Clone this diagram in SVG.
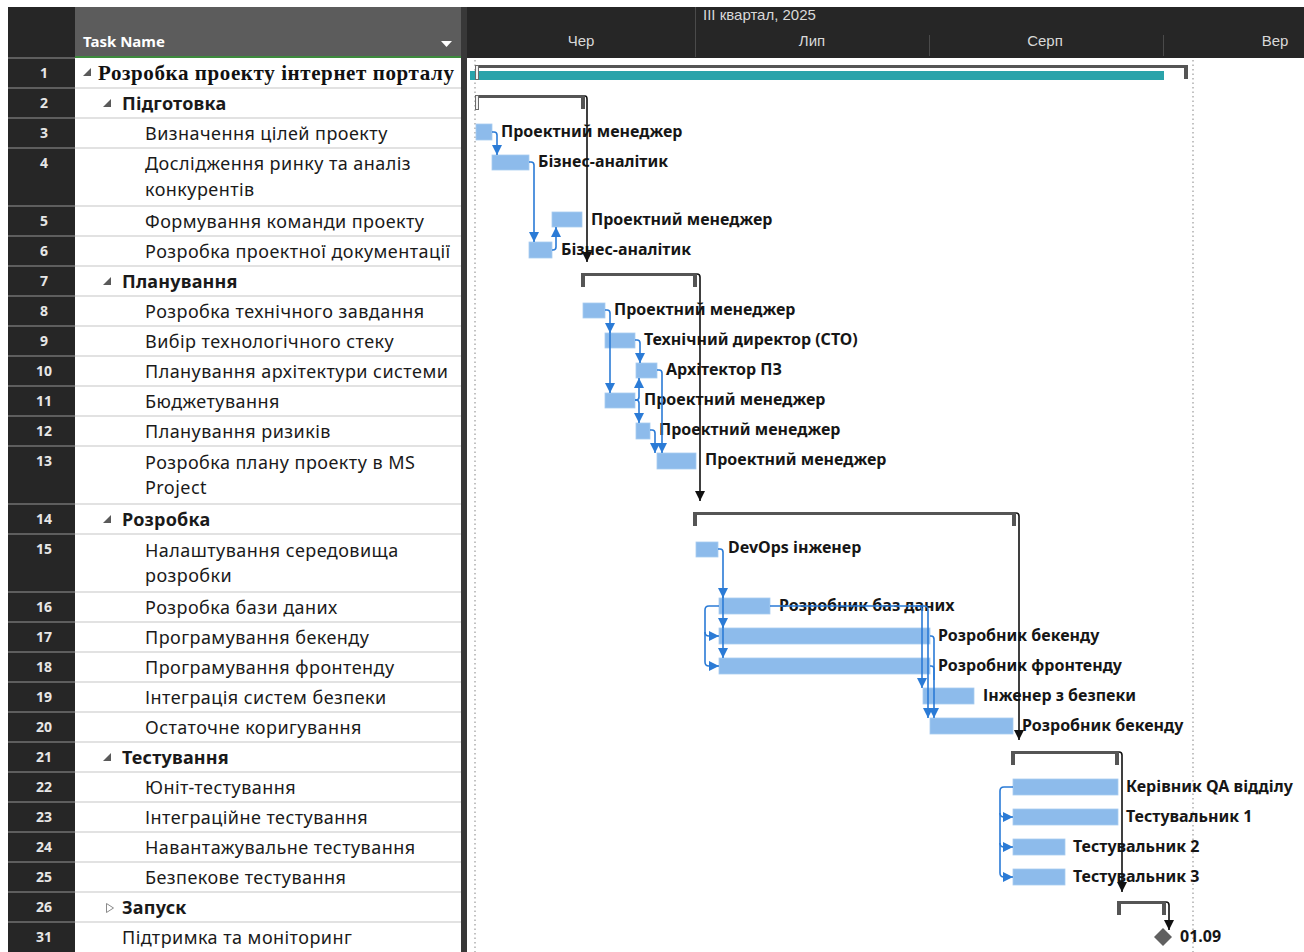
<svg xmlns="http://www.w3.org/2000/svg" width="1304" height="952" viewBox="0 0 1304 952">
  <style>
    .num { font-family: "Noto Sans", "Open Sans", sans-serif; font-size: 14px; font-weight: bold; fill: #e6e6e6; text-anchor: middle; }
    .task { font-family: "Noto Sans", "Open Sans", sans-serif; font-size: 18px; letter-spacing: 0.45px; fill: #1a1a1a; }
    .sum { font-weight: bold; letter-spacing: 0.2px; }
    .title { font-family: "Liberation Serif", serif; font-size: 21px; letter-spacing: 0.6px; font-weight: bold; fill: #111; }
    .hdr { font-family: "Liberation Sans", Arial, sans-serif; font-size: 15px; fill: #d9d9d9; }
    .lbl { font-family: "Noto Sans", "Open Sans", sans-serif; font-size: 16px; font-weight: bold; fill: #161616; }
    .bar { fill: #8dbbeb; stroke: #a9ccf0; stroke-width: 0.8; }
    .sumbar { fill: #555; }
    .hollow { fill: #f2f2f2; stroke: #6a6a6a; stroke-width: 1; }
    .blue { fill: none; stroke: #2b7bd6; stroke-width: 1.6; }
    .black { fill: none; stroke: #111; stroke-width: 1.6; }
    .rowline { stroke: #e2e2e2; stroke-width: 2; }
    .numline { stroke: #5e5e5e; stroke-width: 2; }
    .dots { stroke: #9a9a9a; stroke-width: 1.2; stroke-dasharray: 1.5 3; }
    .tri { fill: #5a5a5a; }
  </style>
  <defs>
    <marker id="ab" viewBox="0 0 10 10" refX="10" refY="5" markerWidth="11" markerHeight="10" markerUnits="userSpaceOnUse" orient="auto">
      <path d="M0,0 L10,5 L0,10 Z" fill="#2b7bd6"/>
    </marker>
    <marker id="ak" viewBox="0 0 10 10" refX="10" refY="5" markerWidth="10" markerHeight="11" markerUnits="userSpaceOnUse" orient="auto">
      <path d="M0,0 L10,5 L0,10 Z" fill="#111"/>
    </marker>
  </defs>

  <!-- page background -->
  <rect x="0" y="0" width="1304" height="952" fill="#ffffff"/>

  <!-- header band -->
  <g id="header">
    <rect x="8" y="7" width="1296" height="51" fill="#262626"/>
    <rect x="75" y="7" width="386" height="50" fill="#5c5c5c"/>
    <rect x="75" y="56" width="386" height="2" fill="#3d8b3d"/>
    <text x="83" y="47" font-family="Noto Sans, Open Sans, sans-serif" font-size="15" font-weight="bold" fill="#ffffff">Task Name</text>
    <path d="M441,41 L452,41 L446.5,47 Z" fill="#ffffff"/>
    <line x1="695.5" y1="7" x2="695.5" y2="57" stroke="#4a4a4a" stroke-width="1"/>
    <line x1="929.5" y1="35" x2="929.5" y2="56" stroke="#4a4a4a" stroke-width="1"/>
    <line x1="1163.5" y1="35" x2="1163.5" y2="56" stroke="#4a4a4a" stroke-width="1"/>
    <text class="hdr" x="703" y="20">III квартал, 2025</text>
    <text class="hdr" x="581" y="46" text-anchor="middle">Чер</text>
    <text class="hdr" x="812" y="46" text-anchor="middle">Лип</text>
    <text class="hdr" x="1045" y="46" text-anchor="middle">Серп</text>
    <text class="hdr" x="1275" y="46" text-anchor="middle">Вер</text>
  </g>

  <!-- row number column and task table -->
  <g id="table">
    <rect x="8" y="58" width="67" height="894" fill="#262626"/>
    <rect x="75" y="58" width="386" height="894" fill="#ffffff"/>
    <rect x="461" y="7" width="6" height="945" fill="#383838"/>
    <g class="numline">
      <line x1="8" y1="58" x2="75" y2="58"/><line x1="8" y1="88" x2="75" y2="88"/><line x1="8" y1="118" x2="75" y2="118"/>
      <line x1="8" y1="148" x2="75" y2="148"/><line x1="8" y1="206" x2="75" y2="206"/><line x1="8" y1="236" x2="75" y2="236"/>
      <line x1="8" y1="266" x2="75" y2="266"/><line x1="8" y1="296" x2="75" y2="296"/><line x1="8" y1="326" x2="75" y2="326"/>
      <line x1="8" y1="356" x2="75" y2="356"/><line x1="8" y1="386" x2="75" y2="386"/><line x1="8" y1="416" x2="75" y2="416"/>
      <line x1="8" y1="446" x2="75" y2="446"/><line x1="8" y1="504" x2="75" y2="504"/><line x1="8" y1="534" x2="75" y2="534"/>
      <line x1="8" y1="592" x2="75" y2="592"/><line x1="8" y1="622" x2="75" y2="622"/><line x1="8" y1="652" x2="75" y2="652"/>
      <line x1="8" y1="682" x2="75" y2="682"/><line x1="8" y1="712" x2="75" y2="712"/><line x1="8" y1="742" x2="75" y2="742"/>
      <line x1="8" y1="772" x2="75" y2="772"/><line x1="8" y1="802" x2="75" y2="802"/><line x1="8" y1="832" x2="75" y2="832"/>
      <line x1="8" y1="862" x2="75" y2="862"/><line x1="8" y1="892" x2="75" y2="892"/><line x1="8" y1="922" x2="75" y2="922"/>
    </g>
    <g class="rowline">
      <line x1="75" y1="88" x2="461" y2="88"/><line x1="75" y1="118" x2="461" y2="118"/>
      <line x1="75" y1="148" x2="461" y2="148"/><line x1="75" y1="206" x2="461" y2="206"/><line x1="75" y1="236" x2="461" y2="236"/>
      <line x1="75" y1="266" x2="461" y2="266"/><line x1="75" y1="296" x2="461" y2="296"/><line x1="75" y1="326" x2="461" y2="326"/>
      <line x1="75" y1="356" x2="461" y2="356"/><line x1="75" y1="386" x2="461" y2="386"/><line x1="75" y1="416" x2="461" y2="416"/>
      <line x1="75" y1="446" x2="461" y2="446"/><line x1="75" y1="504" x2="461" y2="504"/><line x1="75" y1="534" x2="461" y2="534"/>
      <line x1="75" y1="592" x2="461" y2="592"/><line x1="75" y1="622" x2="461" y2="622"/><line x1="75" y1="652" x2="461" y2="652"/>
      <line x1="75" y1="682" x2="461" y2="682"/><line x1="75" y1="712" x2="461" y2="712"/><line x1="75" y1="742" x2="461" y2="742"/>
      <line x1="75" y1="772" x2="461" y2="772"/><line x1="75" y1="802" x2="461" y2="802"/><line x1="75" y1="832" x2="461" y2="832"/>
      <line x1="75" y1="862" x2="461" y2="862"/><line x1="75" y1="892" x2="461" y2="892"/><line x1="75" y1="922" x2="461" y2="922"/>
    </g>
  </g>

  <!-- task rows: number + name -->
  <g id="row1"><text class="num" x="44" y="78">1</text><path class="tri" d="M91,68 L91,76 L83,76 Z"/><text class="title" x="98" y="80">Розробка проекту інтернет порталу</text></g>
  <g id="row2"><text class="num" x="44" y="108">2</text><path class="tri" d="M111,99 L111,107 L103,107 Z"/><text class="task sum" x="122" y="110">Підготовка</text></g>
  <g id="row3"><text class="num" x="44" y="138">3</text><text class="task" x="145" y="140">Визначення цілей проекту</text></g>
  <g id="row4"><text class="num" x="44" y="168">4</text><text class="task" x="145" y="170">Дослідження ринку та аналіз</text><text class="task" x="145" y="196">конкурентів</text></g>
  <g id="row5"><text class="num" x="44" y="226">5</text><text class="task" x="145" y="228">Формування команди проекту</text></g>
  <g id="row6"><text class="num" x="44" y="256">6</text><text class="task" x="145" y="258">Розробка проектної документації</text></g>
  <g id="row7"><text class="num" x="44" y="286">7</text><path class="tri" d="M111,277 L111,285 L103,285 Z"/><text class="task sum" x="122" y="288">Планування</text></g>
  <g id="row8"><text class="num" x="44" y="316">8</text><text class="task" x="145" y="318">Розробка технічного завдання</text></g>
  <g id="row9"><text class="num" x="44" y="346">9</text><text class="task" x="145" y="348">Вибір технологічного стеку</text></g>
  <g id="row10"><text class="num" x="44" y="376">10</text><text class="task" x="145" y="378">Планування архітектури системи</text></g>
  <g id="row11"><text class="num" x="44" y="406">11</text><text class="task" x="145" y="408">Бюджетування</text></g>
  <g id="row12"><text class="num" x="44" y="436">12</text><text class="task" x="145" y="438">Планування ризиків</text></g>
  <g id="row13"><text class="num" x="44" y="466">13</text><text class="task" x="145" y="469">Розробка плану проекту в MS</text><text class="task" x="145" y="494">Project</text></g>
  <g id="row14"><text class="num" x="44" y="524">14</text><path class="tri" d="M111,515 L111,523 L103,523 Z"/><text class="task sum" x="122" y="526">Розробка</text></g>
  <g id="row15"><text class="num" x="44" y="554">15</text><text class="task" x="145" y="557">Налаштування середовища</text><text class="task" x="145" y="582">розробки</text></g>
  <g id="row16"><text class="num" x="44" y="612">16</text><text class="task" x="145" y="614">Розробка бази даних</text></g>
  <g id="row17"><text class="num" x="44" y="642">17</text><text class="task" x="145" y="644">Програмування бекенду</text></g>
  <g id="row18"><text class="num" x="44" y="672">18</text><text class="task" x="145" y="674">Програмування фронтенду</text></g>
  <g id="row19"><text class="num" x="44" y="702">19</text><text class="task" x="145" y="704">Інтеграція систем безпеки</text></g>
  <g id="row20"><text class="num" x="44" y="732">20</text><text class="task" x="145" y="734">Остаточне коригування</text></g>
  <g id="row21"><text class="num" x="44" y="762">21</text><path class="tri" d="M111,753 L111,761 L103,761 Z"/><text class="task sum" x="122" y="764">Тестування</text></g>
  <g id="row22"><text class="num" x="44" y="792">22</text><text class="task" x="145" y="794">Юніт-тестування</text></g>
  <g id="row23"><text class="num" x="44" y="822">23</text><text class="task" x="145" y="824">Інтеграційне тестування</text></g>
  <g id="row24"><text class="num" x="44" y="852">24</text><text class="task" x="145" y="854">Навантажувальне тестування</text></g>
  <g id="row25"><text class="num" x="44" y="882">25</text><text class="task" x="145" y="884">Безпекове тестування</text></g>
  <g id="row26"><text class="num" x="44" y="912">26</text><path d="M106.5,903.5 L113.5,908 L106.5,912.5 Z" fill="none" stroke="#8a8a8a" stroke-width="1"/><text class="task sum" x="122" y="914">Запуск</text></g>
  <g id="row31"><text class="num" x="44" y="942">31</text><text class="task" x="122" y="944">Підтримка та моніторинг</text></g>

  <!-- chart guides -->
  <g id="guides">
    <line class="dots" x1="475" y1="60" x2="475" y2="952"/>
    <line class="dots" x1="1193" y1="60" x2="1193" y2="952"/>
  </g>

  <!-- summary bars -->
  <g id="sum1">
    <rect x="470" y="71" width="694" height="9" fill="#2aa3aa"/>
    <rect class="sumbar" x="475" y="65" width="713" height="3"/>
    <rect class="hollow" x="475.5" y="65.5" width="3" height="14"/>
    <rect class="sumbar" x="1184" y="65" width="4" height="14"/>
  </g>
  <g id="sum2">
    <rect class="sumbar" x="475" y="95" width="110" height="3"/>
    <rect class="hollow" x="475.5" y="95.5" width="3" height="14"/>
    <rect class="sumbar" x="581" y="95" width="4" height="14"/>
  </g>
  <g id="sum7">
    <rect class="sumbar" x="581" y="273" width="116" height="3"/>
    <rect class="sumbar" x="581" y="273" width="4" height="14"/>
    <rect class="sumbar" x="693" y="273" width="4" height="14"/>
  </g>
  <g id="sum14">
    <rect class="sumbar" x="693" y="512" width="323" height="3"/>
    <rect class="sumbar" x="693" y="512" width="4" height="14"/>
    <rect class="sumbar" x="1012" y="512" width="4" height="14"/>
  </g>
  <g id="sum21">
    <rect class="sumbar" x="1011" y="751" width="108" height="3"/>
    <rect class="sumbar" x="1011" y="751" width="4" height="14"/>
    <rect class="sumbar" x="1115" y="751" width="4" height="14"/>
  </g>
  <g id="sum26">
    <rect class="sumbar" x="1117" y="901" width="49" height="3"/>
    <rect class="sumbar" x="1117" y="901" width="4" height="14"/>
    <rect class="sumbar" x="1162" y="901" width="4" height="14"/>
  </g>

  <!-- task bars with resource labels -->
  <g id="bar3"><rect class="bar" x="476" y="124" width="16" height="16"/><text class="lbl" x="501" y="137">Проектний менеджер</text></g>
  <g id="bar4"><rect class="bar" x="492" y="155" width="37" height="15"/><text class="lbl" x="538" y="167">Бізнес-аналітик</text></g>
  <g id="bar5"><rect class="bar" x="552" y="212" width="30" height="15"/><text class="lbl" x="591" y="225">Проектний менеджер</text></g>
  <g id="bar6"><rect class="bar" x="529" y="242" width="23" height="16"/><text class="lbl" x="561" y="255">Бізнес-аналітик</text></g>
  <g id="bar8"><rect class="bar" x="583" y="303" width="22" height="15"/><text class="lbl" x="614" y="315">Проектний менеджер</text></g>
  <g id="bar9"><rect class="bar" x="605" y="333" width="30" height="15"/><text class="lbl" x="644" y="345">Технічний директор (СТО)</text></g>
  <g id="bar10"><rect class="bar" x="636" y="363" width="21" height="15"/><text class="lbl" x="666" y="375">Архітектор ПЗ</text></g>
  <g id="bar11"><rect class="bar" x="605" y="393" width="30" height="15"/><text class="lbl" x="644" y="405">Проектний менеджер</text></g>
  <g id="bar12"><rect class="bar" x="636" y="423" width="14" height="16"/><text class="lbl" x="659" y="435">Проектний менеджер</text></g>
  <g id="bar13"><rect class="bar" x="657" y="453" width="39" height="16"/><text class="lbl" x="705" y="465">Проектний менеджер</text></g>
  <g id="bar15"><rect class="bar" x="696" y="542" width="22" height="15"/><text class="lbl" x="728" y="553">DevOps інженер</text></g>
  <g id="bar16"><rect class="bar" x="719" y="598" width="51" height="16"/><text class="lbl" x="779" y="611">Розробник баз даних</text></g>
  <g id="bar17"><rect class="bar" x="719" y="628" width="211" height="16"/><text class="lbl" x="938" y="641">Розробник бекенду</text></g>
  <g id="bar18"><rect class="bar" x="719" y="658" width="211" height="16"/><text class="lbl" x="938" y="671">Розробник фронтенду</text></g>
  <g id="bar19"><rect class="bar" x="923" y="688" width="51" height="16"/><text class="lbl" x="983" y="701">Інженер з безпеки</text></g>
  <g id="bar20"><rect class="bar" x="930" y="718" width="83" height="16"/><text class="lbl" x="1022" y="731">Розробник бекенду</text></g>
  <g id="bar22"><rect class="bar" x="1013" y="779" width="105" height="16"/><text class="lbl" x="1126" y="792">Керівник QA відділу</text></g>
  <g id="bar23"><rect class="bar" x="1013" y="809" width="105" height="16"/><text class="lbl" x="1126" y="822">Тестувальник 1</text></g>
  <g id="bar24"><rect class="bar" x="1013" y="839" width="52" height="16"/><text class="lbl" x="1073" y="852">Тестувальник 2</text></g>
  <g id="bar25"><rect class="bar" x="1013" y="869" width="52" height="16"/><text class="lbl" x="1073" y="882">Тестувальник 3</text></g>
  <g id="milestone"><path d="M1163,928 L1172,937 L1163,946 L1154,937 Z" fill="#606060"/><text class="lbl" x="1180" y="942">01.09</text></g>

  <!-- dependency links -->
  <g id="connectors">
    <!-- summary-to-summary links -->
    <path class="black" d="M585,96 h0 q2,0 2,3 V262" marker-end="url(#ak)"/>
    <path class="black" d="M697,274 q3,0 3,3 V501" marker-end="url(#ak)"/>
    <path class="black" d="M1016,513 q3,0 3,3 V740" marker-end="url(#ak)"/>
    <path class="black" d="M1119,752 q3,0 3,3 V892" marker-end="url(#ak)"/>
    <path class="black" d="M1166,902 q3,0 3,3 V930" marker-end="url(#ak)"/>

    <!-- Підготовка -->
    <path class="blue" d="M492,132 h2 q3,0 3,3 V155" marker-end="url(#ab)"/>
    <path class="blue" d="M529,162 h2 q3,0 3,3 V242" marker-end="url(#ab)"/>
    <path class="blue" d="M552,250 h1 q3,0 3,-3 V227" marker-end="url(#ab)"/>

    <!-- Планування -->
    <path class="blue" d="M605,310 h2 q3,0 3,3 V333" marker-end="url(#ab)"/>
    <path class="blue" d="M610,330 V393" marker-end="url(#ab)"/>
    <path class="blue" d="M635,340 h2 q3,0 3,3 V363" marker-end="url(#ab)"/>
    <path class="blue" d="M657,370 h2 q3,0 3,3 V453" marker-end="url(#ab)"/>
    <path class="blue" d="M635,400 h1 q3,0 3,-3 V378" marker-end="url(#ab)"/>
    <path class="blue" d="M635,400 h1 q3,0 3,3 V423" marker-end="url(#ab)"/>
    <path class="blue" d="M650,430 h2 q3,0 3,3 V453" marker-end="url(#ab)"/>

    <!-- Розробка -->
    <path class="blue" d="M718,549 h2 q3,0 3,3 V598" marker-end="url(#ab)"/>
    <path class="blue" d="M723,595 V628" marker-end="url(#ab)"/>
    <path class="blue" d="M723,625 V658" marker-end="url(#ab)"/>
    <path class="blue" d="M719,606 H709 q-4,0 -4,4 V632 q0,4 4,4 H719" marker-end="url(#ab)"/>
    <path class="blue" d="M705,632 V662 q0,4 4,4 H719" marker-end="url(#ab)"/>
    <path class="blue" d="M770,606 H918 q4,0 4,4 V688" marker-end="url(#ab)"/>
    <path class="blue" d="M916,606 H924 q4,0 4,4 V718" marker-end="url(#ab)"/>
    <path class="blue" d="M930,636 h1 q3,0 3,3 V718" marker-end="url(#ab)"/>
    <path class="blue" d="M930,666 h1 q3,0 3,3 V680"/>

    <!-- Тестування -->
    <path class="blue" d="M1013,787 H1004 q-4,0 -4,4 V813 q0,4 4,4 H1013" marker-end="url(#ab)"/>
    <path class="blue" d="M1000,813 V843 q0,4 4,4 H1013" marker-end="url(#ab)"/>
    <path class="blue" d="M1000,843 V873 q0,4 4,4 H1013" marker-end="url(#ab)"/>
  </g>
</svg>
